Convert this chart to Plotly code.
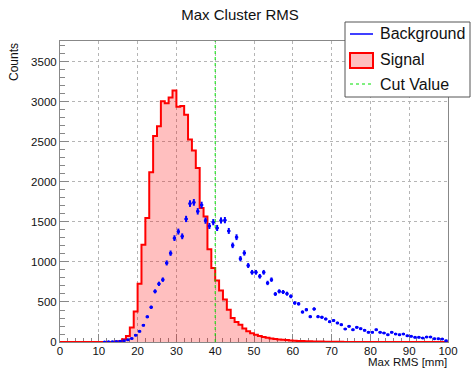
import numpy as np
import plotly.graph_objects as go

# ---------------- data ----------------
bin_edges = list(range(0, 101))  # Max RMS [mm], 1 mm bins
signal_counts = [0] * 13 + [
    1, 3, 8, 35, 75, 180, 380, 729, 1217, 1550,          # 13-22
    2121, 2575, 2695, 3010, 2985, 3055, 3143, 2940, 2950, 2841,  # 23-32
    2530, 2393, 2175, 1675, 1570, 1160, 925, 770, 645, 530,      # 33-42
    404, 300, 250, 215, 170, 135, 110, 90, 76, 62,               # 43-52
    52, 45, 38, 32, 28, 24, 20, 17, 14, 12,                      # 53-62
    10, 8, 7, 6, 5, 4, 3, 3, 2, 2,                               # 63-72
    1, 1,                                                        # 73-74
] + [0] * 25
background_counts = [0] * 11 + [
    1, 2, 3, 5, 10, 16, 28, 44, 85,                              # 11-19
    133, 210, 315, 435, 633, 727, 779, 988, 1110, 1298,          # 20-29
    1380, 1321, 1538, 1730, 1745, 1633, 1712, 1517, 1450, 1498,  # 30-39
    1425, 1519, 1523, 1388, 1208, 1310, 1042, 1113, 956, 871,    # 40-49
    871, 821, 871, 738, 779, 600, 633, 625, 604, 571,            # 50-59
    488, 477, 375, 404, 317, 413, 317, 310, 288, 254,            # 60-69
    269, 238, 217, 163, 196, 154, 183, 167, 146, 121,            # 70-79
    121, 154, 121, 113, 92, 121, 100, 92, 100, 79,               # 80-89
    71, 58, 58, 50, 63, 63, 42, 42, 38, 17,                      # 90-99
]
cut_value = 40
x_tick_vals = list(range(0, 101, 10))
y_tick_vals = list(range(0, 3501, 500))
legend_labels = ["Background", "Signal", "Cut Value"]

# ---------------- layout geometry ----------------
W, H = 471, 369
ML, MR, MT, MB = 60, 23, 41, 27
PW, PH = W - ML - MR, H - MT - MB


def px(x):
    return (x - ML) / PW


def py(y):
    return (H - MB - y) / PH


FONT = "Liberation Sans, Arial, sans-serif"
GREEN = "#00e000"

bin_centers = [e + 0.5 for e in bin_edges[:-1]]
bkg_y = [v if v > 0 else None for v in background_counts]
bkg_err = [float(np.sqrt(v)) if v > 0 else None for v in background_counts]

fig = go.Figure()

# Signal step histogram
fig.add_trace(go.Scatter(
    x=bin_edges,
    y=signal_counts + [signal_counts[-1]],
    mode="lines",
    line=dict(shape="hv", color="#ff0000", width=2),
    fill="tozeroy",
    fillcolor="rgba(255,0,0,0.25)",
    showlegend=False,
    hoverinfo="skip",
))

# Background points with error bars
fig.add_trace(go.Scatter(
    x=bin_centers,
    y=bkg_y,
    mode="markers",
    marker=dict(color="#0000ff", size=3, symbol="circle"),
    error_y=dict(type="data", array=bkg_err, visible=True, color="#0000ff",
                 thickness=2, width=0),
    error_x=dict(type="constant", value=0.42, visible=True, color="#0000ff",
                 thickness=2, width=0),
    showlegend=False,
))

shapes = []
# Cut value line
shapes.append(dict(type="line", xref="x", yref="paper", x0=cut_value, x1=cut_value,
                   y0=0, y1=1, line=dict(color=GREEN, width=1, dash="dot"),
                   layer="above"))

# Legend box (manual, ROOT-style)
lx0, lx1, ly0, ly1 = 345, 470, 22, 97
shapes.append(dict(type="rect", xref="paper", yref="paper",
                   x0=px(lx0), x1=px(lx1), y0=py(ly1), y1=py(ly0),
                   fillcolor="white", line=dict(color="#555555", width=1),
                   layer="above"))
sx0, sx1 = 350, 373
rows_y = [34, 60, 84]
shapes.append(dict(type="line", xref="paper", yref="paper",
                   x0=px(sx0), x1=px(sx1), y0=py(rows_y[0]), y1=py(rows_y[0]),
                   line=dict(color="#0000ff", width=1.5), layer="above"))
shapes.append(dict(type="rect", xref="paper", yref="paper",
                   x0=px(sx0), x1=px(sx1), y0=py(68), y1=py(53),
                   fillcolor="rgba(255,0,0,0.25)", line=dict(color="#ff0000", width=2),
                   layer="above"))
shapes.append(dict(type="line", xref="paper", yref="paper",
                   x0=px(sx0), x1=px(sx1), y0=py(rows_y[2]), y1=py(rows_y[2]),
                   line=dict(color=GREEN, width=1, dash="dot"), layer="above"))

annotations = []
for lab, yy in zip(legend_labels, rows_y):
    annotations.append(dict(text=lab, xref="paper", yref="paper", x=px(378), y=py(yy),
                            xanchor="left", yanchor="middle", showarrow=False,
                            font=dict(family=FONT, size=16, color="#111111")))
# Axis titles (ROOT-style, at the ends)
annotations.append(dict(text="Max RMS [mm]", xref="paper", yref="paper", x=1, y=py(369),
                        xanchor="right", yanchor="bottom", showarrow=False, borderpad=0,
                        font=dict(family=FONT, size=11.5, color="#111111")))
annotations.append(dict(text="Counts", xref="paper", yref="paper", x=px(14), y=1,
                        xanchor="center", yanchor="top", textangle=-90, showarrow=False,
                        font=dict(family=FONT, size=12, color="#111111")))

axis_common = dict(
    showline=True, linecolor="#888888", linewidth=1, mirror=True,
    ticks="inside", tickcolor="#888888", tickwidth=1,
    showgrid=True, gridcolor="#b5b5b5", griddash="dot", gridwidth=1,
    zeroline=False,
    tickfont=dict(family=FONT, size=11.5, color="#111111"),
)

fig.update_layout(
    width=W, height=H,
    margin=dict(l=ML, r=MR, t=MT, b=MB),
    paper_bgcolor="white", plot_bgcolor="white",
    title=dict(text="Max Cluster RMS", x=240 / W, xref="container", xanchor="center",
               y=1 - 15 / H, yref="container", yanchor="middle",
               font=dict(family=FONT, size=15, color="#111111")),
    xaxis=dict(range=[0, 100], tickvals=x_tick_vals, ticklen=8, ticklabelstandoff=-2,
               minor=dict(dtick=2, ticks="inside", ticklen=4, tickcolor="#888888",
                          showgrid=False),
               layer="below traces", **axis_common),
    yaxis=dict(range=[0, 3762], tickvals=y_tick_vals, ticklen=9,
               minor=dict(dtick=100, ticks="inside", ticklen=5, tickcolor="#888888",
                          showgrid=False),
               **axis_common),
    shapes=shapes,
    annotations=annotations,
    showlegend=False,
)

fig.write_html("out.html")
